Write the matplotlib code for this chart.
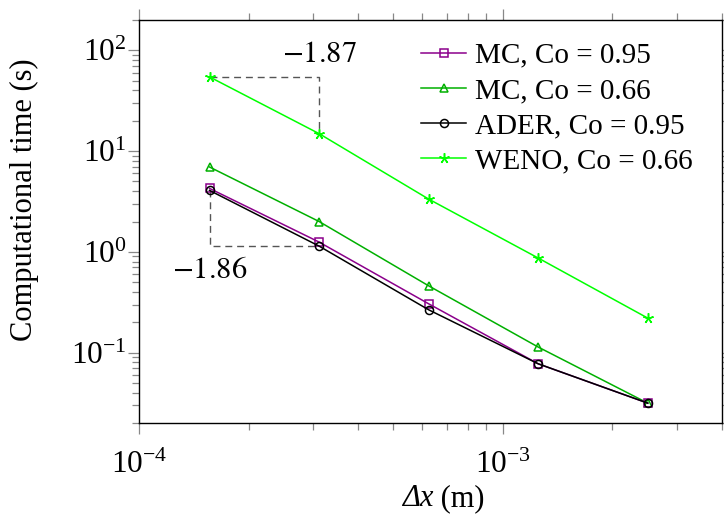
import matplotlib
matplotlib.use("Agg")
import matplotlib.pyplot as plt
from matplotlib.ticker import LogLocator, NullFormatter

plt.rcParams["font.family"] = ["Liberation Serif", "DejaVu Serif"]
plt.rcParams["mathtext.fontset"] = "stix"

# ---- dados ----
dx = [1.5625e-4, 3.125e-4, 6.25e-4, 1.25e-3, 2.5e-3]
t_mc95 = [4.26, 1.25, 0.305, 0.0774, 0.0315]
t_mc66 = [6.95, 2.00, 0.460, 0.1135, 0.0315]
t_ader95 = [4.07, 1.14, 0.266, 0.0774, 0.0315]
t_weno66 = [54.5, 14.9, 3.34, 0.868, 0.220]
labels = ["MC, Co = 0.95", "MC, Co = 0.66", "ADER, Co = 0.95", "WENO, Co = 0.66"]
slopes = [r"$-1.87$", r"$-1.86$"]

fig = plt.figure(figsize=(7.24, 5.20), dpi=100)
ax = fig.add_axes([139/724, 97/520, 583/724, 403/520])

estrela = (5, 2, 0)   # asterisco de 5 bracos (tipo pgfplots "star")
ax.plot(dx, t_mc95, color="#8B008B", lw=1.1, marker="s", ms=5.8, mfc="none",
        mew=1.1, label=labels[0], zorder=4)
ax.plot(dx, t_mc66, color="#00B000", lw=1.1, marker="^", ms=6.0, mfc="none",
        mew=1.1, label=labels[1], zorder=3)
ax.plot(dx, t_ader95, color="black", lw=1.1, marker="o", ms=5.8, mfc="none",
        mew=1.1, label=labels[2], zorder=5)
ax.plot(dx, t_weno66, color="#00FF00", lw=1.1, marker=estrela, ms=7.5,
        mew=1.1, label=labels[3], zorder=3)

# triangulos de inclinacao
dash = dict(color="#555555", lw=1.0, ls=(0, (5, 3.5)), zorder=2)
ax.plot([dx[0], dx[1], dx[1]], [t_weno66[0], t_weno66[0], t_weno66[1]], **dash)
ax.plot([dx[0], dx[0], dx[1]], [t_ader95[0], t_ader95[1], t_ader95[1]], **dash)
ax.text(dx[1], t_weno66[0] * 1.2, slopes[0], fontsize=22, ha="center", va="bottom")
ax.text(dx[0], t_ader95[1] * 0.79, slopes[1], fontsize=22, ha="center", va="top")

ax.set_xscale("log")
ax.set_yscale("log")
ax.set_xlim(1e-4, 4e-3)
ax.set_ylim(0.02, 200)

ax.xaxis.set_minor_locator(LogLocator(base=10, subs=range(2, 10), numticks=20))
ax.xaxis.set_minor_formatter(NullFormatter())
ax.yaxis.set_minor_locator(LogLocator(base=10, subs=range(2, 10), numticks=20))
ax.yaxis.set_minor_formatter(NullFormatter())

ax.tick_params(which="both", direction="out", top=True, right=True,
               color="#888888", width=0.9, labelsize=22.5)
ax.tick_params(which="major", length=8)
ax.tick_params(which="minor", length=5)
ax.tick_params(axis="x", which="major", pad=12)
ax.tick_params(axis="y", which="major", pad=1)
for s in ax.spines.values():
    s.set_linewidth(1.0)

# rotulo x: "Δx" em italico + " (m)"
ax.text(0.505, -0.152, "Δx", transform=ax.transAxes, fontsize=22,
        style="italic", ha="right", va="top")
ax.text(0.505, -0.152, " (m)", transform=ax.transAxes, fontsize=22,
        ha="left", va="top")
ax.set_ylabel("Computational time (s)", fontsize=22)
ax.yaxis.set_label_coords(-0.172, 0.553)

ax.legend(loc="upper right", frameon=False, fontsize=21, handlelength=1.55,
          handletextpad=0.3, labelspacing=0.3, borderaxespad=0.3,
          bbox_to_anchor=(0.985, 0.995))

fig.savefig("out.png", dpi=100)
